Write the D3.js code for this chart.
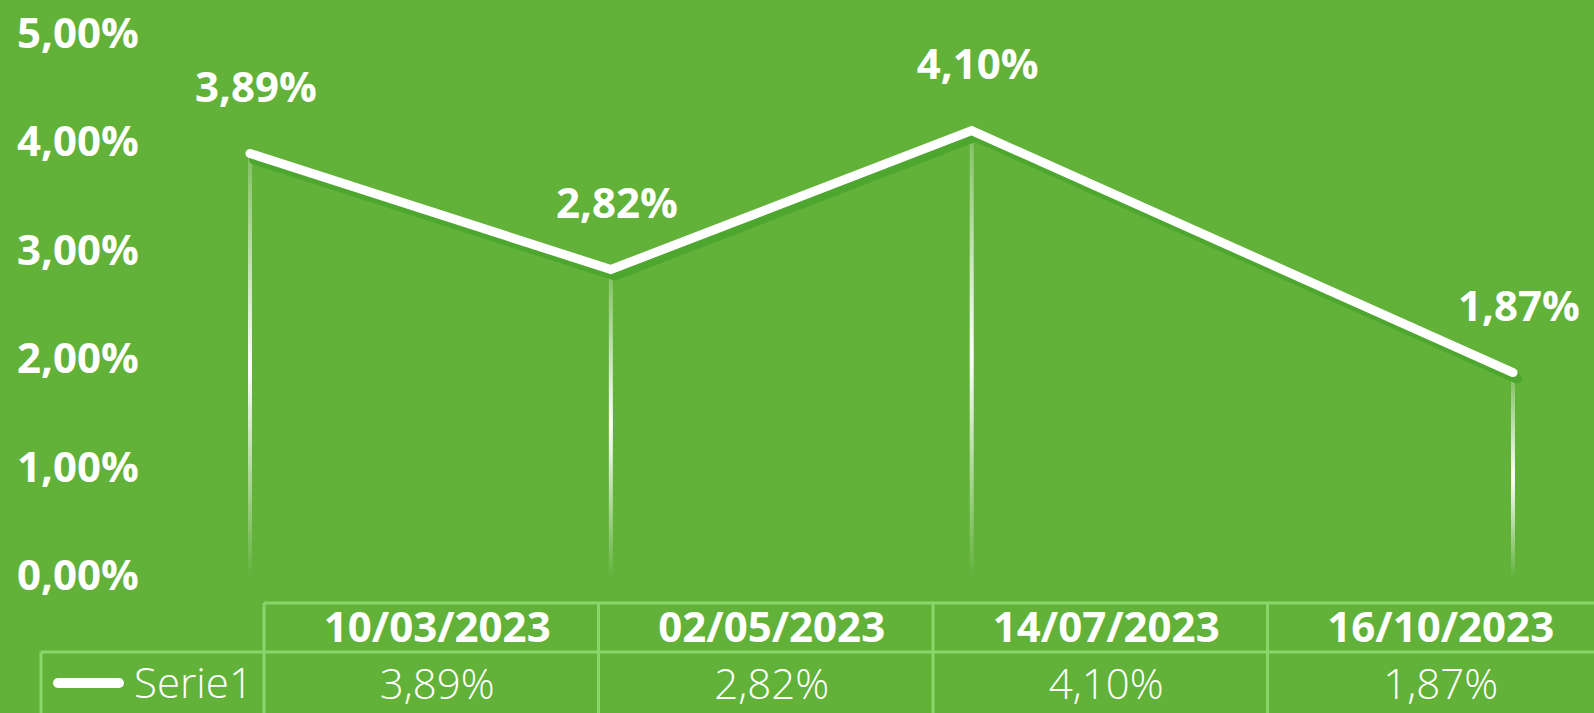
<!DOCTYPE html>
<html>
<head>
<meta charset="utf-8">
<script src="https://cdn.jsdelivr.net/npm/d3@7"></script>
<style>
  html, body { margin: 0; padding: 0; background: #62b23a; overflow: hidden; }
  text { font-family: "Open Sans", "DejaVu Sans", sans-serif; fill: #fff; }
</style>
</head>
<body>
<div id="body"></div>
<script>
// data
var dates = ["10/03/2023", "02/05/2023", "14/07/2023", "16/10/2023"];
var values = [3.89, 2.82, 4.10, 1.87];
var yTicks = [0, 1, 2, 3, 4, 5];
var seriesName = "Serie1";

var width = 1594;
var height = 713;

var bgColor = "#62b23a";
var shadowColor = "#4da72e";
var gridColor = "#8bd66b";
var font = 42;

var fmt = function (v) {
  return v.toFixed(2).replace(".", ",") + "%";
};

var parse = d3.timeParse("%d/%m/%Y");
var start = parse(dates[0]);

var data = dates.map(function (d, i) {
  return { date: d, month: d3.timeMonth.count(start, parse(d)), value: values[i] };
});

var svg = d3
  .select("#body")
  .append("svg")
  .attr("width", width)
  .attr("height", height);

svg.append("rect").attr("width", width).attr("height", height).attr("fill", bgColor);

var xScale = d3.scaleLinear().domain([0, 7]).range([250, 1513]);
var yScale = d3.scaleLinear().domain([0, 5]).range([575.5, 33]);
var colScale = d3.scaleBand().domain(dates).range([264, 264 + 4 * 334.5]);

// gradient for drop lines
var defs = svg.append("defs");
var grad = defs
  .append("linearGradient")
  .attr("id", "dropGrad")
  .attr("x1", 0).attr("y1", 0)
  .attr("x2", 0).attr("y2", 1);
grad.append("stop").attr("offset", "0%").attr("stop-color", "#fff").attr("stop-opacity", 0.2);
grad.append("stop").attr("offset", "50%").attr("stop-color", "#fff").attr("stop-opacity", 1);
grad.append("stop").attr("offset", "100%").attr("stop-color", "#fff").attr("stop-opacity", 0);

// Y AXIS LABELS
svg
  .append("g")
  .selectAll("text")
  .data(yTicks)
  .enter()
  .append("text")
  .attr("x", 78)
  .attr("y", function (d) {
    return yScale(d) - 2;
  })
  .attr("dominant-baseline", "central")
  .attr("text-anchor", "middle")
  .attr("font-size", font)
  .attr("font-weight", 700)
  .text(function (d) {
    return fmt(d);
  });

// DROP LINES
svg
  .append("g")
  .selectAll("rect")
  .data(data)
  .enter()
  .append("rect")
  .attr("x", function (d) {
    return xScale(d.month) - 2;
  })
  .attr("y", function (d) {
    return yScale(d.value) + 4;
  })
  .attr("width", 4)
  .attr("height", function (d) {
    return yScale(0) - yScale(d.value) - 2;
  })
  .attr("fill", "url(#dropGrad)");

var line = d3
  .line()
  .x(function (d) {
    return xScale(d.month);
  })
  .y(function (d) {
    return yScale(d.value);
  });

// shadow
svg
  .append("path")
  .datum(data)
  .attr("d", line)
  .attr("transform", "translate(4,6)")
  .attr("fill", "none")
  .attr("stroke", shadowColor)
  .attr("stroke-width", 10)
  .attr("stroke-linecap", "round")
  .attr("stroke-linejoin", "round");

// main line
svg
  .append("path")
  .datum(data)
  .attr("d", line)
  .attr("fill", "none")
  .attr("stroke", "#fff")
  .attr("stroke-width", 9)
  .attr("stroke-linecap", "round")
  .attr("stroke-linejoin", "miter");

// DATA LABELS
svg
  .append("g")
  .selectAll("text")
  .data(data)
  .enter()
  .append("text")
  .attr("x", function (d) {
    return xScale(d.month) + 6;
  })
  .attr("y", function (d) {
    return yScale(d.value) - 68;
  })
  .attr("dominant-baseline", "central")
  .attr("text-anchor", "middle")
  .attr("font-size", font)
  .attr("font-weight", 700)
  .text(function (d) {
    return fmt(d.value);
  });

// ======================= TABLE ============================
var tableTop = 603;
var rowMid = 652;
var tableBottom = 740;
var legendLeft = 41;
var table = svg.append("g");

// horizontal lines
table.append("line")
  .attr("x1", colScale.range()[0]).attr("x2", colScale.range()[1])
  .attr("y1", tableTop).attr("y2", tableTop)
  .attr("stroke", gridColor).attr("stroke-width", 3);
table.append("line")
  .attr("x1", legendLeft).attr("x2", colScale.range()[1])
  .attr("y1", rowMid).attr("y2", rowMid)
  .attr("stroke", gridColor).attr("stroke-width", 3);

// vertical lines
table.append("line")
  .attr("x1", legendLeft).attr("x2", legendLeft)
  .attr("y1", rowMid).attr("y2", tableBottom)
  .attr("stroke", gridColor).attr("stroke-width", 3);
table
  .selectAll("line.col")
  .data(dates.concat(["end"]))
  .enter()
  .append("line")
  .attr("class", "col")
  .attr("x1", function (d, i) {
    return colScale.range()[0] + i * colScale.bandwidth();
  })
  .attr("x2", function (d, i) {
    return colScale.range()[0] + i * colScale.bandwidth();
  })
  .attr("y1", tableTop)
  .attr("y2", tableBottom)
  .attr("stroke", gridColor)
  .attr("stroke-width", 3);

// header dates
table
  .selectAll("text.head")
  .data(data)
  .enter()
  .append("text")
  .attr("class", "head")
  .attr("x", function (d) {
    return colScale(d.date) + colScale.bandwidth() / 2 + 6;
  })
  .attr("y", 625)
  .attr("dominant-baseline", "central")
  .attr("text-anchor", "middle")
  .attr("font-size", font)
  .attr("font-weight", 700)
  .text(function (d) {
    return d.date;
  });

// values row
table
  .selectAll("text.val")
  .data(data)
  .enter()
  .append("text")
  .attr("class", "val")
  .attr("x", function (d) {
    return colScale(d.date) + colScale.bandwidth() / 2 + 6;
  })
  .attr("y", 682)
  .attr("dominant-baseline", "central")
  .attr("text-anchor", "middle")
  .attr("font-size", font)
  .attr("font-weight", 300)
  .text(function (d) {
    return fmt(d.value);
  });

// legend key
table.append("line")
  .attr("x1", 58).attr("x2", 119)
  .attr("y1", 683).attr("y2", 683)
  .attr("stroke", "#fff").attr("stroke-width", 10)
  .attr("stroke-linecap", "round");
table.append("text")
  .attr("x", 134)
  .attr("y", 681)
  .attr("dominant-baseline", "central")
  .attr("font-size", font)
  .attr("font-weight", 300)
  .text(seriesName);
</script>
</body>
</html>
